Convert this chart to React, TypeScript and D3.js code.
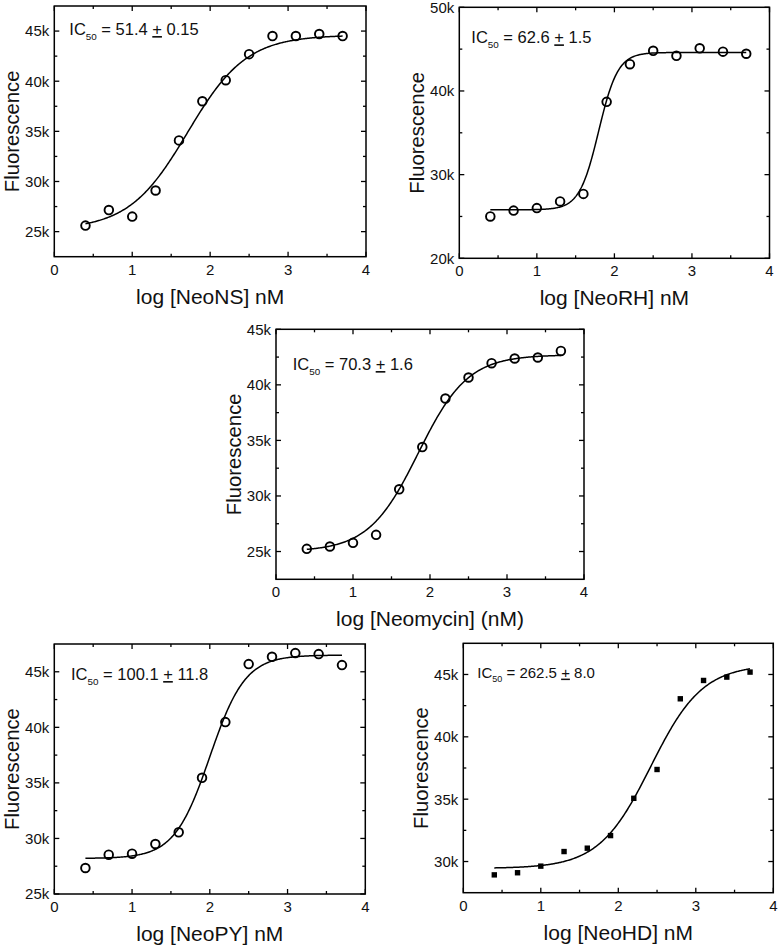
import * as d3 from "d3";

// log concentration (nM) shared by every titration
const LOG_CONC = [0.4, 0.7, 1.0, 1.3, 1.6, 1.9, 2.2, 2.5, 2.8, 3.1, 3.4, 3.7];

// measured fluorescence for each ligand
const NEONS = [25600, 27150, 26500, 29100, 34100, 38000, 40100, 42700, 44500, 44500, 44700, 44500];
const NEORH = [25000, 25700, 26000, 26800, 27700, 38700, 43200, 44800, 44200, 45100, 44700, 44450];
const NEOMYCIN = [25240, 25450, 25780, 26500, 30600, 34400, 38770, 40660, 41950, 42370, 42460, 43050];
const NEOPY = [27340, 28540, 28630, 29500, 30550, 35460, 40470, 45690, 46350, 46680, 46590, 45600];
const NEOHD = [28930, 29100, 29630, 30800, 31070, 32080, 35070, 37380, 43050, 44520, 44790, 45190];

// dose-response fit parameters: [bottom, top, logIC50, hill slope]
const FIT_NS = [25200, 44600, 1.711, 1.15];
const FIT_RH = [25800, 44600, 1.797, 3.5];
const FIT_NEO = [25000, 42700, 1.847, 1.35];
const FIT_PY = [28200, 46500, 2.0, 1.9];
const FIT_HD = [29450, 45800, 2.419, 1.3];

// IC50 labels
const IC50_TEXT = [
  ["51.4", "0.15"],
  ["62.6", "1.5"],
  ["70.3", "1.6"],
  ["100.1", "11.8"],
  ["262.5", "8.0"],
];

const X_TICKS = [0, 1, 2, 3, 4];
const X_MINOR = [0.5, 1.5, 2.5, 3.5];

const FONT = "'Liberation Sans', Arial, Helvetica, sans-serif";

type PanelProps = {
  box: [number, number, number, number]; // left, top, right, bottom
  yDomain: [number, number];
  yStep: number;
  values: number[];
  fit: number[];
  xLabel: string;
  ic: string[];
  icOffset: [number, number];
  icSize: number;
  square?: boolean;
};

function Panel({ box, yDomain, yStep, values, fit, xLabel, ic, icOffset, icSize, square }: PanelProps) {
  const [l, t, r, b] = box;
  const x = d3.scaleLinear().domain([0, 4]).range([l, r]);
  const y = d3.scaleLinear().domain(yDomain).range([b, t]);

  const yMajor = d3.range(Math.ceil(yDomain[0] / yStep) * yStep, yDomain[1] + 1, yStep);
  const yMinor = d3
    .range(Math.ceil(yDomain[0] / (yStep / 2)) * (yStep / 2), yDomain[1] + 1, yStep / 2)
    .filter((v) => !yMajor.includes(v) && v > yDomain[0] && v < yDomain[1]);

  const [bottom, top, logIC, hill] = fit;
  const fitFn = (v: number) => bottom + (top - bottom) / (1 + Math.pow(10, (logIC - v) * hill));
  const xs = d3.range(LOG_CONC[0], LOG_CONC[LOG_CONC.length - 1] + 0.0001, 0.01);
  const line = d3
    .line<number>()
    .x((d) => x(d))
    .y((d) => y(fitFn(d)));

  const major = 5;
  const minor = 3;
  const stroke = "#000";
  const tickFont = 15;
  const titleFont = 21;

  return (
    <g fontFamily={FONT}>
      {/* ticks, all four sides, pointing inward */}
      {X_TICKS.map((v) => (
        <g key={"xt" + v}>
          <line x1={x(v)} x2={x(v)} y1={b} y2={b - major} stroke={stroke} strokeWidth={1.3} />
          <line x1={x(v)} x2={x(v)} y1={t} y2={t + major} stroke={stroke} strokeWidth={1.3} />
          <text x={x(v)} y={b + 18} fontSize={tickFont} textAnchor="middle" fill="#111">
            {v}
          </text>
        </g>
      ))}
      {X_MINOR.map((v) => (
        <g key={"xm" + v}>
          <line x1={x(v)} x2={x(v)} y1={b} y2={b - minor} stroke={stroke} strokeWidth={1.3} />
          <line x1={x(v)} x2={x(v)} y1={t} y2={t + minor} stroke={stroke} strokeWidth={1.3} />
        </g>
      ))}
      {yMajor.map((v) => (
        <g key={"yt" + v}>
          <line x1={l} x2={l + major} y1={y(v)} y2={y(v)} stroke={stroke} strokeWidth={1.3} />
          <line x1={r} x2={r - major} y1={y(v)} y2={y(v)} stroke={stroke} strokeWidth={1.3} />
          <text x={l - 5} y={y(v)} dy="0.36em" fontSize={tickFont} textAnchor="end" fill="#111">
            {`${v / 1000}k`}
          </text>
        </g>
      ))}
      {yMinor.map((v) => (
        <g key={"ym" + v}>
          <line x1={l} x2={l + minor} y1={y(v)} y2={y(v)} stroke={stroke} strokeWidth={1.3} />
          <line x1={r} x2={r - minor} y1={y(v)} y2={y(v)} stroke={stroke} strokeWidth={1.3} />
        </g>
      ))}
      <rect x={l} y={t} width={r - l} height={b - t} fill="none" stroke={stroke} strokeWidth={1.5} />

      <path d={line(xs) || ""} fill="none" stroke={stroke} strokeWidth={1.5} />

      {values.map((v, i) =>
        square ? (
          <rect key={i} x={x(LOG_CONC[i]) - 2.7} y={y(v) - 2.7} width={5.4} height={5.4} fill={stroke} />
        ) : (
          <circle key={i} cx={x(LOG_CONC[i])} cy={y(v)} r={4.3} fill="none" stroke={stroke} strokeWidth={1.9} />
        )
      )}

      <text
        x={l + icOffset[0]}
        y={t + icOffset[1]}
        fontSize={icSize}
        fill="#111"
        style={{ whiteSpace: "pre" }}
      >
        <tspan>IC</tspan>
        <tspan fontSize={icSize * 0.6} dy={icSize * 0.3}>
          50
        </tspan>
        <tspan dy={-icSize * 0.3}>{` = ${ic[0]} `}</tspan>
        <tspan textDecoration="underline">+</tspan>
        <tspan>{` ${ic[1]}`}</tspan>
      </text>

      <text x={(l + r) / 2} y={b + 47} fontSize={titleFont} textAnchor="middle" fill="#111">
        {xLabel}
      </text>
      <text
        transform={`translate(${l - 35.3},${(t + b) / 2}) rotate(-90)`}
        fontSize={20.3}
        textAnchor="middle"
        fill="#111"
      >
        Fluorescence
      </text>
    </g>
  );
}

export default function App() {
  return (
    <div style={{ position: "absolute", left: 0, top: 0 }}>
      <svg width={780} height={948} viewBox="0 0 780 948" style={{ display: "block", background: "#fff" }}>
        <Panel
          box={[54.3, 6, 366, 256.7]}
          yDomain={[22500, 47500]}
          yStep={5000}
          values={NEONS}
          fit={FIT_NS}
          xLabel="log [NeoNS] nM"
          ic={IC50_TEXT[0]}
          icOffset={[15, 29]}
          icSize={16.5}
        />
        <Panel
          box={[459.3, 7.3, 769.5, 258.3]}
          yDomain={[20000, 50000]}
          yStep={10000}
          values={NEORH}
          fit={FIT_RH}
          xLabel="log [NeoRH] nM"
          ic={IC50_TEXT[1]}
          icOffset={[12, 36]}
          icSize={16.5}
        />
        <Panel
          box={[276, 329.3, 584, 579.3]}
          yDomain={[22500, 45000]}
          yStep={5000}
          values={NEOMYCIN}
          fit={FIT_NEO}
          xLabel="log [Neomycin] (nM)"
          ic={IC50_TEXT[2]}
          icOffset={[16.7, 40.7]}
          icSize={16.5}
        />
        <Panel
          box={[54.3, 644, 365.3, 894]}
          yDomain={[25000, 47500]}
          yStep={5000}
          values={NEOPY}
          fit={FIT_PY}
          xLabel="log [NeoPY] nM"
          ic={IC50_TEXT[3]}
          icOffset={[16.7, 36]}
          icSize={16.5}
        />
        <Panel
          box={[463.3, 643.3, 773.3, 892.7]}
          yDomain={[27500, 47500]}
          yStep={5000}
          values={NEOHD}
          fit={FIT_HD}
          xLabel="log [NeoHD] nM"
          ic={IC50_TEXT[4]}
          icOffset={[14, 34.3]}
          icSize={15}
          square
        />
      </svg>
    </div>
  );
}
